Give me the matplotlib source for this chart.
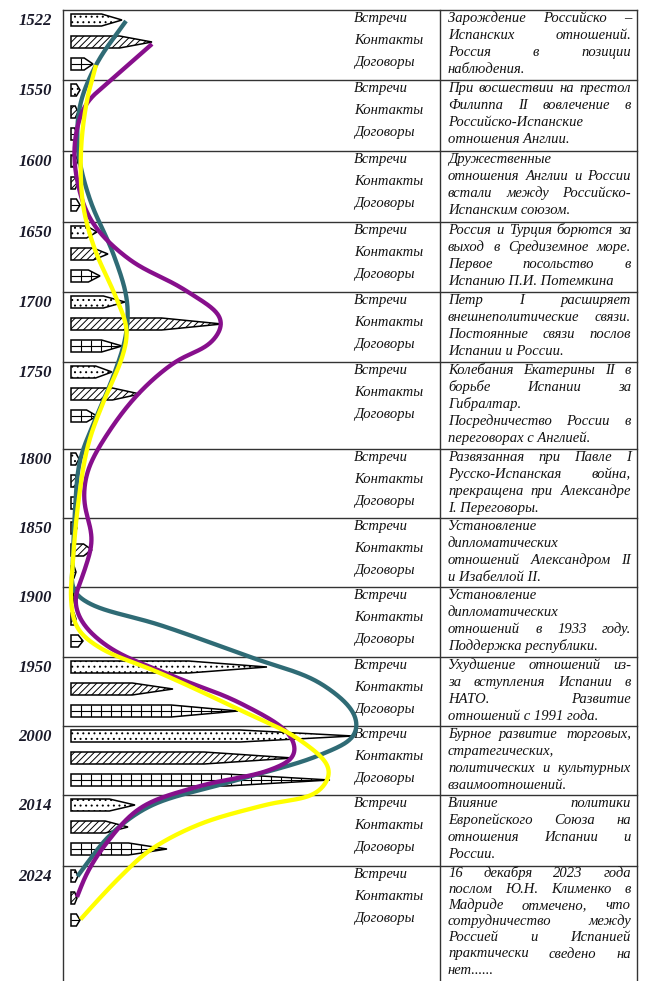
import numpy as np
import matplotlib
matplotlib.use('Agg')
import matplotlib.pyplot as plt
from matplotlib.patches import Polygon
from matplotlib.collections import LineCollection
from matplotlib.font_manager import FontProperties

# ---------------- data ----------------
years = ['1522', '1550', '1600', '1650', '1700', '1750', '1800',
         '1850', '1900', '1950', '2000', '2014', '2024']
category_labels = ['Встречи', 'Контакты', 'Договоры']

# bar lengths (chart units)
meetings = [51, 9, 7, 26, 54, 41, 8, 6, 3, 196, 282, 64, 7]
contacts = [81, 7, 7, 37, 151, 69, 7, 21, 5, 102, 222, 57, 6]
treaties = [22, 6, 9, 29, 51, 26, 8, 5, 12, 167, 259, 96, 9]

descriptions = [
    [["Зарождение Российско –", "Испанских отношений.", "Россия в позиции", "наблюдения."]],
    [["При восшествии на престол", "Филиппа II вовлечение в", "Российско-Испанские", "отношения Англии."]],
    [["Дружественные", "отношения Англии и России", "встали между Российско-", "Испанским союзом."]],
    [["Россия и Турция борются за", "выход в Средиземное море.", "Первое посольство в", "Испанию П.И. Потемкина"]],
    [["Петр I расширяет", "внешнеполитические связи.", "Постоянные связи послов", "Испании и России."]],
    [["Колебания Екатерины II в", "борьбе Испании за", "Гибралтар."],
     ["Посредничество России в", "переговорах с Англией."]],
    [["Развязанная при Павле I", "Русско-Испанская война,", "прекращена при Александре", "I. Переговоры."]],
    [["Установление", "дипломатических", "отношений Александром II", "и Изабеллой II."]],
    [["Установление", "дипломатических", "отношений в 1933 году.", "Поддержка республики."]],
    [["Ухудшение отношений из-", "за вступления Испании в", "НАТО. Развитие", "отношений с 1991 года."]],
    [["Бурное развитие торговых,", "стратегических,", "политических и культурных", "взаимоотношений."]],
    [["Влияние политики", "Европейского Союза на", "отношения Испании и", "России."]],
    [["16 декабря 2023 года", "послом Ю.Н. Клименко в", "Мадриде отмечено, что",
      "сотрудничество между", "Россией и Испанией", "практически сведено на", "нет......"]],
]

# smoothed trend curves (chart x, chart y)
meet_curve_x = [126, 97, 80, 78, 90, 113, 127, 126, 113, 95, 80, 75, 73, 73, 90, 160, 250, 320,
                355, 355, 320, 230, 150, 110, 88, 77]
meet_curve_y = [21, 63, 105, 150, 200, 253, 300, 335, 377, 420, 460, 510, 560, 590, 604, 625, 657, 683,
                715, 735, 755, 782, 806, 835, 862, 877]

cont_curve_x = [152, 110, 86, 75, 77, 92, 130, 185, 222, 212, 175, 140, 110, 88, 84, 92, 84, 75,
                82, 110, 170, 240, 290, 295, 270, 200, 140, 105, 87, 77]
cont_curve_y = [44, 81, 104, 140, 180, 222, 260, 290, 320, 342, 362, 392, 430, 470, 500, 540, 572, 600,
                622, 648, 675, 703, 735, 755, 770, 786, 808, 845, 873, 897]

treat_curve_x = [96, 87, 81, 83, 95, 115, 127, 122, 105, 88, 78, 73, 71, 77, 100, 160, 240, 300,
                 330, 318, 265, 200, 150, 122, 98, 80]
treat_curve_y = [65, 100, 150, 205, 250, 295, 330, 358, 398, 445, 505, 560, 600, 628, 648, 673, 710, 740,
                 770, 792, 805, 824, 850, 875, 900, 920]

# ---------------- layout ----------------
W, H = 646, 981
row_tops = [10, 80, 151, 222, 292, 362, 449, 518, 587, 657, 726, 795, 866]
x_left, x_mid, x_right = 63, 440, 637
bar_x0 = 71
bar_h = 12
sub_offsets = [10, 32, 54]
label_offsets = [12, 34, 56]
text_left, text_right = 448, 631

teal = '#2f6b75'
purple = '#870f8c'
yellow = '#ffff00'
ink = '#111111'

plt.rcParams['hatch.linewidth'] = 0.7
fig = plt.figure(figsize=(W / 100, H / 100), dpi=100)
ax = fig.add_axes([0, 0, 1, 1])
ax.set_xlim(0, W)
ax.set_ylim(H, 0)
ax.axis('off')

body_fp = FontProperties(family='Liberation Serif', style='italic', size=10.5)
year_fp = FontProperties(family='Liberation Serif', style='italic', weight='bold', size=12)

# table lines
line_col = '#333333'
for t in row_tops:
    ax.plot([x_left, x_right], [t, t], color=line_col, lw=1.0, zorder=1)
for xv in (x_left, x_mid, x_right):
    ax.plot([xv, xv], [row_tops[0], H], color=line_col, lw=1.0, zorder=1)


def tapered(x0, yc, L, frac=0.6):
    xr = x0 + L * frac
    return [(x0, yc - bar_h / 2), (xr, yc - bar_h / 2), (x0 + L, yc),
            (xr, yc + bar_h / 2), (x0, yc + bar_h / 2)]


series = [meetings, contacts, treaties]
for i, top in enumerate(row_tops):
    ax.text(52, top + 15, years[i], fontproperties=year_fp, color='#1a1a2a',
            ha='right', va='baseline', zorder=3)
    for k in range(3):
        L = series[k][i]
        yc = top + sub_offsets[k]
        pts = tapered(bar_x0, yc, L)
        if k == 0:
            p = Polygon(pts, closed=True, facecolor='white', edgecolor='black',
                        lw=1.1, hatch='...', zorder=2)
            ax.add_patch(p)
        elif k == 1:
            p = Polygon(pts, closed=True, facecolor='white', edgecolor='black',
                        lw=1.1, hatch='/////', zorder=2)
            ax.add_patch(p)
        else:
            p = Polygon(pts, closed=True, facecolor='white', edgecolor='black',
                        lw=1.1, zorder=2)
            ax.add_patch(p)
            segs = [[(xv, yc - bar_h / 2), (xv, yc + bar_h / 2)]
                    for xv in np.arange(bar_x0 + 10, bar_x0 + L, 10)]
            segs.append([(bar_x0, yc), (bar_x0 + L, yc)])
            lc = LineCollection(segs, colors='black', linewidths=0.8, zorder=2.1)
            ax.add_collection(lc)
            lc.set_clip_path(p)
        ax.text(354, top + label_offsets[k], category_labels[k], fontproperties=body_fp,
                color=ink, ha='left', va='baseline', zorder=3)

# justified descriptions
fig.canvas.draw()
renderer = fig.canvas.get_renderer()


def wwidth(s):
    w, h, d = renderer.get_text_width_height_descent(s, body_fp, ismath=False)
    return w


for i, top in enumerate(row_tops):
    n_lines = sum(len(p) for p in descriptions[i])
    first, step = (12, 17.0) if n_lines <= 5 else (11, 16.1)
    n = 0
    for para in descriptions[i]:
        for j, line in enumerate(para):
            y = top + first + n * step
            words = line.split(' ')
            last = (j == len(para) - 1)
            if last or len(words) == 1:
                ax.text(text_left, y, line, fontproperties=body_fp, color=ink,
                        ha='left', va='baseline', zorder=3)
            else:
                widths = [wwidth(w) for w in words]
                gap = (text_right - text_left - sum(widths)) / (len(words) - 1)
                x = text_left
                for w, ww in zip(words, widths):
                    ax.text(x, y, w, fontproperties=body_fp, color=ink,
                            ha='left', va='baseline', zorder=3)
                    x += ww + gap
            n += 1


def catmull(xs, ys, n=30, alpha=0.5):
    P = np.column_stack([xs, ys]).astype(float)
    P = np.vstack([2 * P[0] - P[1], P, 2 * P[-1] - P[-2]])
    out = []
    for k in range(len(P) - 3):
        p0, p1, p2, p3 = P[k:k + 4]
        t0 = 0.0
        t1 = t0 + np.linalg.norm(p1 - p0) ** alpha
        t2 = t1 + np.linalg.norm(p2 - p1) ** alpha
        t3 = t2 + np.linalg.norm(p3 - p2) ** alpha
        t = np.linspace(t1, t2, n, endpoint=False)[:, None]
        A1 = (t1 - t) / (t1 - t0) * p0 + (t - t0) / (t1 - t0) * p1
        A2 = (t2 - t) / (t2 - t1) * p1 + (t - t1) / (t2 - t1) * p2
        A3 = (t3 - t) / (t3 - t2) * p2 + (t - t2) / (t3 - t2) * p3
        B1 = (t2 - t) / (t2 - t0) * A1 + (t - t0) / (t2 - t0) * A2
        B2 = (t3 - t) / (t3 - t1) * A2 + (t - t1) / (t3 - t1) * A3
        C = (t2 - t) / (t2 - t1) * B1 + (t - t1) / (t2 - t1) * B2
        out.append(C)
    out.append(P[-2][None])
    return np.vstack(out)


def smooth_path(s, sigma=7.0):
    d = np.r_[0, np.cumsum(np.hypot(np.diff(s[:, 0]), np.diff(s[:, 1])))]
    u = np.arange(0, d[-1], 1.0)
    x = np.interp(u, d, s[:, 0])
    y = np.interp(u, d, s[:, 1])
    r = int(3 * sigma)
    k = np.exp(-0.5 * (np.arange(-r, r + 1) / sigma) ** 2)
    k /= k.sum()

    def ext(v):
        return np.r_[2 * v[0] - v[r:0:-1], v, 2 * v[-1] - v[-2:-r - 2:-1]]

    xs = np.convolve(ext(x), k, mode='valid')
    ys = np.convolve(ext(y), k, mode='valid')
    return xs, ys


for cx, cy, col in [(meet_curve_x, meet_curve_y, teal),
                    (cont_curve_x, cont_curve_y, purple),
                    (treat_curve_x, treat_curve_y, yellow)]:
    sx, sy = smooth_path(catmull(cx, cy))
    ax.plot(sx, sy, color=col, lw=3.1, solid_capstyle='butt',
            solid_joinstyle='round', zorder=4)

fig.savefig('out.png', dpi=100)
